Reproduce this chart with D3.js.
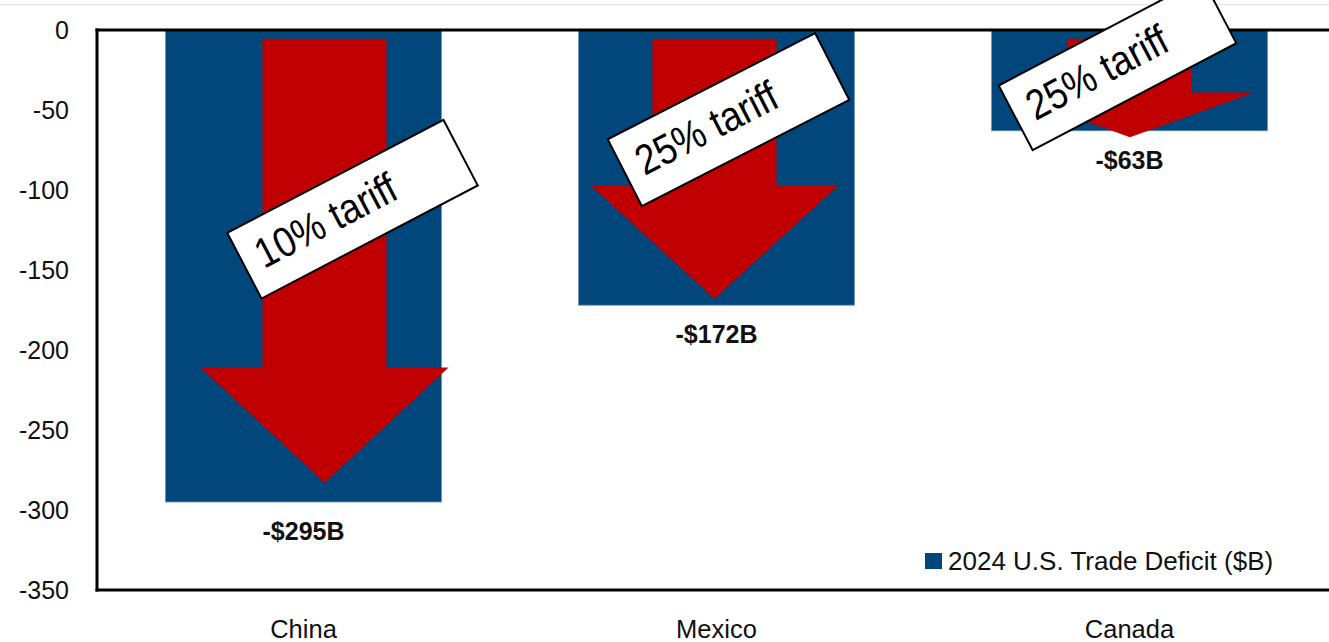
<!DOCTYPE html>
<html>
<head>
<meta charset="utf-8">
<script src="https://cdn.jsdelivr.net/npm/d3@7/dist/d3.min.js"></script>
<style>
  html, body { margin: 0; padding: 0; background: #fff; }
  svg { display: block; font-family: "Liberation Sans", Arial, sans-serif; }
</style>
</head>
<body>
<svg id="chart" width="1329" height="642"></svg>
<script>
// 2024 U.S. trade deficit by partner ($B) and announced tariff rates
const countries = ["China", "Mexico", "Canada"];
const deficits = [-295, -172, -63];
const deficitLabels = ["-$295B", "-$172B", "-$63B"];
const tariffLabels = ["10% tariff", "25% tariff", "25% tariff"];
const yTicks = [0, -50, -100, -150, -200, -250, -300, -350];
const seriesName = "2024 U.S. Trade Deficit ($B)";

// Arrow extents in data units: shaft top, head base, tip
const arrowTop = [-5.5, -5.5, -5.5];
const arrowHeadBase = [-211, -97, -39];
const arrowTip = [-283, -168, -67];

const W = 1329, H = 642;
const svg = d3.select("#chart");

const x = d3.scaleBand()
  .domain(countries)
  .range([97, 1336])
  .paddingInner(0.332)
  .paddingOuter(0.166);

const y = d3.scaleLinear()
  .domain([-350, 0])
  .range([590, 30]);

// faint rule along the top edge
svg.append("line")
  .attr("x1", 0).attr("x2", W).attr("y1", 4.5).attr("y2", 4.5)
  .attr("stroke", "#e3e3e3").attr("stroke-width", 1);

// bars
svg.append("g").selectAll("rect")
  .data(countries)
  .join("rect")
  .attr("x", d => x(d))
  .attr("y", y(0))
  .attr("width", x.bandwidth())
  .attr("height", (d, i) => y(deficits[i]) - y(0))
  .attr("fill", "#01477b")
  .attr("stroke", "#6a93b8")
  .attr("stroke-width", 0.8);

// arrows
const arrowShift = [21, -2, 0.5];          // horizontal nudge from bar centre, px
const shaftHalf = 62, headHalf = 124;
svg.append("g").selectAll("path")
  .data(countries)
  .join("path")
  .attr("fill", "#c00000")
  .attr("d", (d, i) => {
    const cx = x(d) + x.bandwidth() / 2 + arrowShift[i];
    const t = y(arrowTop[i]), b = y(arrowHeadBase[i]), tip = y(arrowTip[i]);
    return d3.line()([
      [cx - shaftHalf, t], [cx + shaftHalf, t], [cx + shaftHalf, b],
      [cx + headHalf, b], [cx, tip], [cx - headHalf, b], [cx - shaftHalf, b]
    ]) + "Z";
  });

// axes
const yAxis = d3.axisLeft(y).tickValues(yTicks).tickSize(0).tickPadding(28);
const gy = svg.append("g").attr("transform", "translate(97,0)").call(yAxis);
gy.select(".domain").remove();
gy.selectAll("text")
  .attr("font-size", 25).attr("fill", "#111")
  .attr("font-family", "Liberation Sans, Arial, sans-serif")
  .text(d => String(d));

svg.append("line")
  .attr("x1", 97).attr("x2", 97).attr("y1", y(0) - 1.5).attr("y2", y(-350) + 1.5)
  .attr("stroke", "#000").attr("stroke-width", 3);
svg.append("line")
  .attr("x1", 95.5).attr("x2", W).attr("y1", y(-350)).attr("y2", y(-350))
  .attr("stroke", "#000").attr("stroke-width", 3);
svg.append("line")
  .attr("x1", 95.5).attr("x2", W).attr("y1", y(0)).attr("y2", y(0))
  .attr("stroke", "#000").attr("stroke-width", 3);

const xAxis = d3.axisBottom(x).tickSize(0).tickPadding(30);
const gx = svg.append("g").attr("transform", `translate(0,${y(-350)})`).call(xAxis);
gx.select(".domain").remove();
gx.selectAll("text")
  .attr("font-size", 25.5).attr("fill", "#111")
  .attr("font-family", "Liberation Sans, Arial, sans-serif");

// value labels under each bar
svg.append("g").selectAll("text")
  .data(countries)
  .join("text")
  .attr("x", d => x(d) + x.bandwidth() / 2)
  .attr("y", (d, i) => y(deficits[i]) + 38)
  .attr("text-anchor", "middle")
  .attr("font-size", 25)
  .attr("font-weight", "bold")
  .attr("fill", "#111")
  .text((d, i) => deficitLabels[i]);

// tilted tariff callouts
const callouts = [
  { dx: 49, v: -112, w: 244, h: 74, angle: -27.6 },
  { dx: 12, v: -56, w: 233, h: 75, angle: -27.1 },
  { dx: -12, v: -21.5, w: 230, h: 73, angle: -27.7 }
];
const cg = svg.append("g").selectAll("g")
  .data(countries)
  .join("g")
  .attr("transform", (d, i) => {
    const c = callouts[i];
    return `translate(${x(d) + x.bandwidth() / 2 + c.dx},${y(c.v)}) rotate(${c.angle})`;
  });
cg.append("rect")
  .attr("x", (d, i) => -callouts[i].w / 2)
  .attr("y", (d, i) => -callouts[i].h / 2)
  .attr("width", (d, i) => callouts[i].w)
  .attr("height", (d, i) => callouts[i].h)
  .attr("fill", "#fff")
  .attr("stroke", "#000")
  .attr("stroke-width", 2);
cg.append("text")
  .attr("x", (d, i) => -callouts[i].w / 2 + 16)
  .attr("y", 12)
  .attr("font-size", 42)
  .attr("textLength", 154)
  .attr("lengthAdjust", "spacingAndGlyphs")
  .attr("fill", "#000")
  .text((d, i) => tariffLabels[i]);

// legend
const lg = svg.append("g").attr("transform", "translate(925,553)");
lg.append("rect").attr("width", 17).attr("height", 16).attr("fill", "#01477b");
lg.append("text")
  .attr("x", 23).attr("y", 17)
  .attr("font-size", 26).attr("fill", "#111")
  .text(seriesName);
</script>
</body>
</html>
